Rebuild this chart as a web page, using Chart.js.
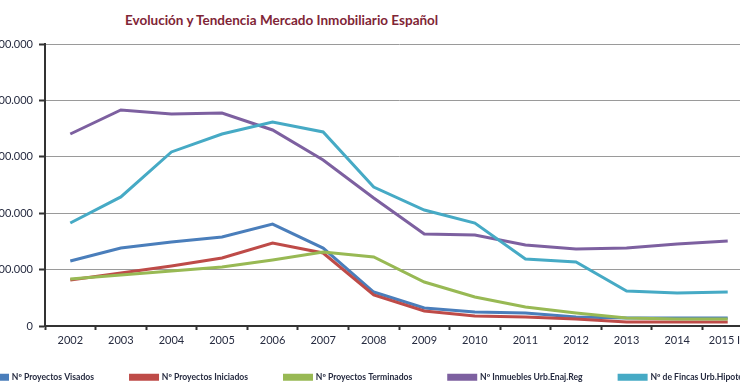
<!DOCTYPE html>
<html>
<head>
<meta charset="utf-8">
<script src="https://cdn.jsdelivr.net/npm/chart.js@4"></script>
<style>
  html, body { margin: 0; padding: 0; overflow: hidden; background: #fff; }
  body { width: 740px; height: 389px; position: relative; }
  #titulo {
    position: absolute; left: 125px; top: 12px;
    font: bold 13.5px Lato, sans-serif; color: #7f2536; white-space: nowrap;
  }
  #caja { position: absolute; left: -56px; top: 0; width: 900px; height: 389px; }
</style>
</head>
<body>
<div id="titulo">Evolución y Tendencia Mercado Inmobiliario Español</div>
<div id="caja"><canvas id="grafica"></canvas></div>
<script>
const anios = ["2002", "2003", "2004", "2005", "2006", "2007", "2008",
  "2009", "2010", "2011", "2012", "2013", "2014", "2015 IT"];

const visados    = [576000, 691000, 745000, 789000, 904000, 691000, 301000, 160000, 124000, 115000, 80000, 71000, 71000, 71000];
const iniciados  = [408000, 470000, 532000, 603000, 736000, 647000, 275000, 133000, 89000, 80000, 62000, 35000, 35000, 35000];
const terminados = [417000, 452000, 488000, 523000, 585000, 656000, 612000, 390000, 257000, 168000, 115000, 71000, 62000, 62000];
const inmuebles  = [1702000, 1915000, 1879000, 1888000, 1738000, 1472000, 1135000, 816000, 807000, 718000, 683000, 691000, 727000, 753000];
const fincas     = [913000, 1144000, 1543000, 1702000, 1808000, 1720000, 1232000, 1028000, 913000, 594000, 567000, 310000, 293000, 301000];

const ejeMax = 2500000;
const ejePaso = 500000;

function miles(v) {
  return String(v).replace(/\B(?=(\d{3})+(?!\d))/g, ".");
}

function serie(label, data, color, orden) {
  return {
    label: label,
    data: data,
    borderColor: color,
    backgroundColor: color,
    borderWidth: 3,
    pointRadius: 0,
    tension: 0,
    fill: false,
    order: orden,
  };
}

const texto = "#262b40";

// la leyenda usa mucho padding para separar los elementos; la subimos un poco
const subirLeyenda = {
  id: "subirLeyenda",
  afterLayout(chart) {
    chart.legend.top -= 15.5;
  },
};

window.onload = () => {
  new Chart(document.getElementById("grafica"), {
    type: "line",
    data: {
      labels: anios,
      datasets: [
        serie("Nº Proyectos Visados", visados, "#4a7ebb", 5),
        serie("Nº Proyectos Iniciados", iniciados, "#be4b48", 4),
        serie("Nº Proyectos Terminados", terminados, "#98b954", 3),
        serie("Nº Inmuebles Urb.Enaj.Reg", inmuebles, "#7d60a0", 2),
        serie("Nº de Fincas Urb.Hipotecadas", fincas, "#46aac5", 1),
      ],
    },
    plugins: [subirLeyenda],
    options: {
      responsive: true,
      maintainAspectRatio: false,
      animation: false,
      layout: { padding: { top: 44, left: 0, right: 0, bottom: 0 } },
      plugins: {
        title: { display: false },
        tooltip: { enabled: false },
        legend: {
          position: "bottom",
          align: "start",
          maxHeight: 37,
          labels: {
            boxWidth: 27,
            boxHeight: 4,
            padding: 36.5,
            color: texto,
            font: { family: "Lato", size: 8.6, weight: "bold" },
            sort: (a, b) => a.datasetIndex - b.datasetIndex,
          },
        },
      },
      scales: {
        x: {
          offset: true,
          grid: {
            offset: true,
            drawOnChartArea: false,
            tickLength: 4,
            tickColor: "#333",
            tickWidth: 2,
          },
          border: { color: "#333", width: 2 },
          ticks: {
            color: texto,
            font: { family: "Lato", size: 11 },
            padding: 4,
            maxRotation: 0,
            autoSkip: false,
          },
          afterFit: (s) => { s.height = 26; },
        },
        y: {
          min: 0,
          max: ejeMax,
          grid: {
            color: "#9a9a9a",
            lineWidth: 1,
            tickLength: 6,
            tickColor: "#333",
            tickWidth: 2,
          },
          border: { color: "#333", width: 2 },
          ticks: {
            stepSize: ejePaso,
            color: texto,
            font: { family: "Lato", size: 11 },
            padding: 6,
            callback: (v) => miles(v),
          },
          afterFit: (s) => { s.width = 101; },
        },
        derecha: {
          position: "right",
          grid: { display: false },
          border: { display: false },
          ticks: { display: false },
          afterFit: (s) => { s.width = 91; },
        },
      },
    },
  });
};
</script>
</body>
</html>
